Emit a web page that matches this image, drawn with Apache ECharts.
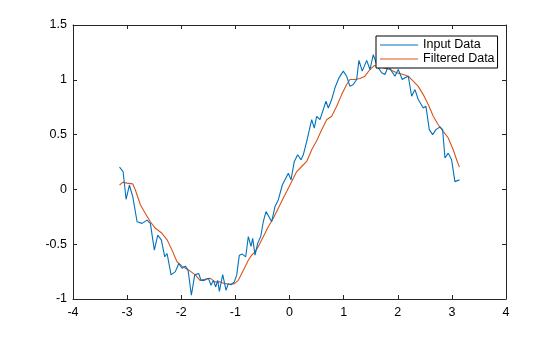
<!DOCTYPE html>
<html>
<head>
<meta charset="utf-8">
<script src="https://cdn.jsdelivr.net/npm/echarts@6/dist/echarts.min.js"></script>
<style>html,body{margin:0;padding:0;background:#fff}#c{width:560px;height:337px}</style>
</head>
<body>
<div id="c"></div>
<script>
var seriesNames = ['Input Data', 'Filtered Data'];
var xTicks = [-4, -3, -2, -1, 0, 1, 2, 3, 4];
var yTicks = [-1, -0.5, 0, 0.5, 1, 1.5];

var inputData = [
[-3.14,0.203],[-3.075,0.163],[-3.019,-0.09],[-2.958,0.04],[-2.896,-0.066],[-2.816,-0.295],
[-2.724,-0.31],[-2.632,-0.28],[-2.571,-0.31],[-2.497,-0.554],[-2.434,-0.417],[-2.368,-0.46],
[-2.305,-0.615],[-2.262,-0.585],[-2.188,-0.78],[-2.109,-0.75],[-2.046,-0.676],[-1.985,-0.72],
[-1.924,-0.70],[-1.874,-0.737],[-1.813,-0.966],[-1.751,-0.78],[-1.677,-0.767],[-1.634,-0.83],
[-1.573,-0.83],[-1.500,-0.81],[-1.450,-0.875],[-1.407,-0.83],[-1.363,-0.89],[-1.326,-0.83],
[-1.296,-0.93],[-1.234,-0.777],[-1.173,-0.92],[-1.130,-0.86],[-1.080,-0.87],[-1.019,-0.844],
[-0.975,-0.78],[-0.927,-0.60],[-0.872,-0.59],[-0.809,-0.615],[-0.761,-0.43],[-0.711,-0.52],
[-0.680,-0.447],[-0.637,-0.60],[-0.587,-0.49],[-0.532,-0.43],[-0.484,-0.295],[-0.434,-0.203],
[-0.379,-0.249],[-0.329,-0.295],[-0.268,-0.157],[-0.207,-0.096],[-0.133,0.04],[-0.083,0.087],
[-0.022,0.148],[0.028,0.087],[0.089,0.255],[0.151,0.316],[0.212,0.27],[0.255,0.316],
[0.318,0.438],[0.410,0.636],[0.458,0.56],[0.502,0.667],[0.563,0.636],[0.674,0.804],
[0.717,0.743],[0.779,0.82],[0.840,0.927],[0.914,1.018],[0.994,1.079],[1.056,1.033],
[1.117,0.94],[1.178,0.957],[1.241,1.003],[1.283,1.177],[1.344,1.079],[1.426,1.177],
[1.487,1.094],[1.548,1.23],[1.621,1.125],[1.703,1.064],[1.764,1.048],[1.825,1.125],
[1.948,1.033],[2.009,1.094],[2.083,1.003],[2.133,1.018],[2.194,1.033],[2.257,0.85],
[2.318,0.911],[2.379,0.82],[2.471,0.743],[2.521,0.758],[2.582,0.545],[2.645,0.50],
[2.705,0.545],[2.779,0.57],[2.829,0.545],[2.872,0.286],[2.933,0.331],[2.995,0.27],
[3.056,0.071],[3.14,0.087]
];

var filteredData = [
[-3.14,0.04],[-3.075,0.066],[-3.001,0.057],[-2.896,0.05],[-2.848,-0.005],[-2.755,-0.14],
[-2.663,-0.22],[-2.571,-0.295],[-2.478,-0.355],[-2.368,-0.395],[-2.262,-0.46],[-2.170,-0.554],
[-2.078,-0.66],[-1.985,-0.70],[-1.861,-0.737],[-1.740,-0.78],[-1.653,-0.83],[-1.560,-0.82],
[-1.468,-0.81],[-1.376,-0.844],[-1.283,-0.844],[-1.191,-0.86],[-1.099,-0.865],[-1.019,-0.86],
[-0.946,-0.83],[-0.883,-0.767],[-0.822,-0.707],[-0.761,-0.646],[-0.698,-0.60],[-0.637,-0.57],
[-0.576,-0.52],[-0.513,-0.46],[-0.452,-0.40],[-0.392,-0.34],[-0.299,-0.264],[-0.207,-0.172],
[-0.133,-0.096],[-0.052,-0.02],[0.041,0.071],[0.133,0.163],[0.225,0.209],[0.318,0.255],
[0.410,0.362],[0.502,0.444],[0.595,0.545],[0.687,0.636],[0.779,0.667],[0.872,0.758],
[0.964,0.865],[1.056,0.957],[1.117,1.003],[1.210,1.003],[1.302,1.012],[1.394,1.033],
[1.487,1.094],[1.566,1.13],[1.732,1.11],[1.856,1.094],[1.980,1.064],[2.102,1.048],
[2.194,1.033],[2.286,0.987],[2.379,0.94],[2.471,0.865],[2.563,0.774],[2.656,0.667],
[2.748,0.59],[2.840,0.53],[2.933,0.469],[3.025,0.362],[3.099,0.255],[3.14,0.203]
];

var FONT = '"Liberation Sans", Arial, Helvetica, sans-serif';
var AX = '#262626';
var FS = 12.5;

function mkX(pos, labels) {
  return {
    type: 'value', position: pos, min: xTicks[0], max: xTicks[xTicks.length - 1], interval: 1,
    axisLine: { show: true, onZero: false, lineStyle: { color: AX, width: 1 } },
    axisTick: { show: true, inside: true, length: 4, lineStyle: { color: AX } },
    axisLabel: { show: labels, color: '#000', fontFamily: FONT, fontSize: FS, margin: 7 },
    splitLine: { show: false }
  };
}
function mkY(pos, labels) {
  return {
    type: 'value', position: pos, min: yTicks[0], max: yTicks[yTicks.length - 1], interval: 0.5,
    axisLine: { show: true, onZero: false, lineStyle: { color: AX, width: 1 } },
    axisTick: { show: true, inside: true, length: 4, lineStyle: { color: AX } },
    axisLabel: { show: labels, color: '#000', fontFamily: FONT, fontSize: FS, margin: 6 },
    splitLine: { show: false }
  };
}

var chart = echarts.init(document.getElementById('c'), null, { renderer: 'canvas' });
chart.setOption({
  animation: false,
  backgroundColor: '#fff',
  grid: { left: 73, right: 54, top: 25, bottom: 38, containLabel: false },
  xAxis: [mkX('bottom', true), mkX('top', false)],
  yAxis: [mkY('left', true), mkY('right', false)],
  legend: {
    data: seriesNames.map(function (n) { return { name: n, icon: 'rect' }; }),
    orient: 'vertical', left: 376, top: 36,
    itemWidth: 38, itemHeight: 1.2, itemGap: 0,
    padding: [2, 3, 2, 4],
    borderColor: '#000', borderWidth: 1, backgroundColor: '#fff',
    textStyle: { color: '#000', fontFamily: FONT, fontSize: FS, lineHeight: 14 }
  },
  series: [
    { name: seriesNames[0], type: 'line', data: inputData, showSymbol: false, symbol: 'none',
      lineStyle: { color: '#0072BD', width: 1.1 }, itemStyle: { color: '#0072BD' }, z: 3 },
    { name: seriesNames[1], type: 'line', data: filteredData, showSymbol: false, symbol: 'none',
      lineStyle: { color: '#D95319', width: 1.1 }, itemStyle: { color: '#D95319' }, z: 2 }
  ]
});
</script>
</body>
</html>
